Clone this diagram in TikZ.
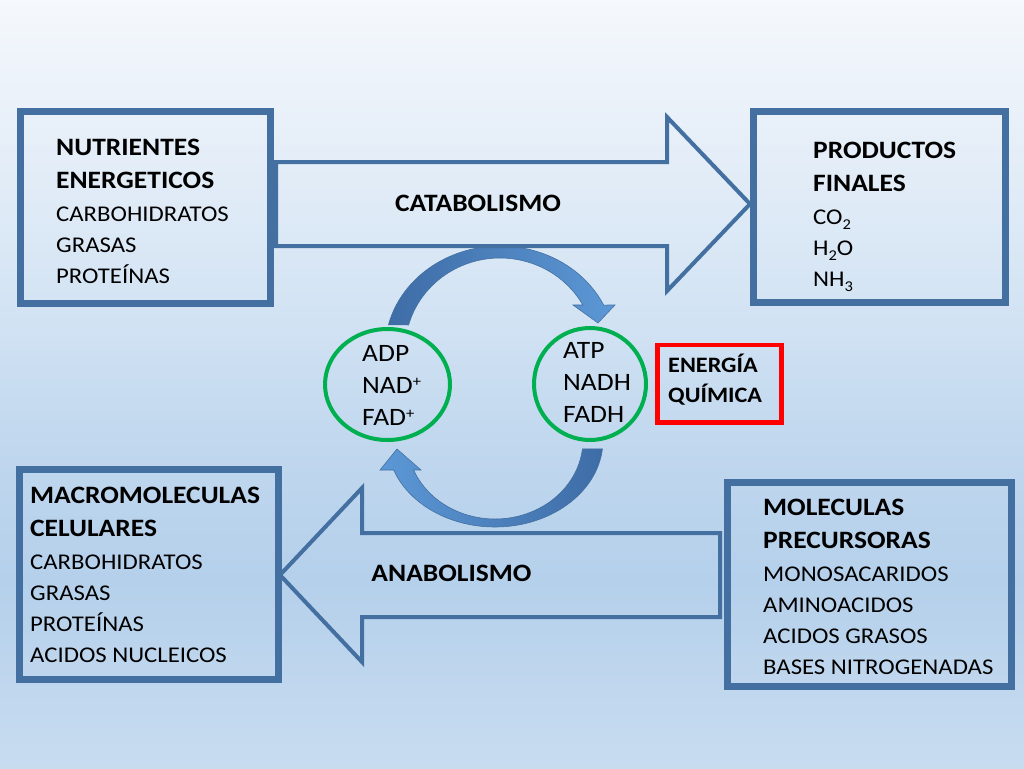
\documentclass[tikz,border=0pt]{standalone}
\usepackage{fontspec}
\setmainfont{Carlito}[FakeStretch=1.1]
\usetikzlibrary{calc,shapes.geometric}

\definecolor{boxblue}{RGB}{67,112,160}
\definecolor{ringgreen}{RGB}{0,176,80}
\definecolor{arcdark}{RGB}{62,108,166}
\definecolor{arclight}{RGB}{92,152,214}
\definecolor{bgtop}{RGB}{245,248,252}
\definecolor{bgpale}{RGB}{229,238,248}
\definecolor{bglight}{RGB}{212,228,244}
\definecolor{bgmid}{RGB}{192,215,238}
\definecolor{bgdeep}{RGB}{181,208,235}
\definecolor{bgbottom}{RGB}{200,220,240}

\pgfdeclareverticalshading{slidebg}{100bp}{color(0bp)=(bgbottom); color(25bp)=(bgbottom); color(37.2bp)=(bgdeep); color(45.7bp)=(bgmid); color(55.5bp)=(bglight); color(65.2bp)=(bgpale); color(75bp)=(bgtop); color(100bp)=(bgtop)}

\def\head#1{{\fontsize{25}{33}\selectfont\bfseries #1}}
\def\plus{\raisebox{7pt}{\fontsize{15}{15}\selectfont +}}
\def\sub#1{\raisebox{-5pt}{\fontsize{15}{15}\selectfont #1}}

\tikzset{
	boxline/.style={draw=boxblue, line width=7},
	bigarrow/.style={draw=boxblue, line width=4, line join=miter},
	arcband/.style={draw=boxblue, line width=0.6},
	ring/.style={ellipse, draw=ringgreen, line width=4, inner sep=0},
	redbox/.style={rectangle, draw=red, line width=4.5, inner sep=0},
	boxtext/.style={anchor=base west, inner sep=0, font=\fontsize{22.5}{31}\selectfont},
	ringtext/.style={anchor=base west, inner sep=0, font=\fontsize{25}{32}\selectfont},
	arrowtext/.style={anchor=base, inner sep=0, font=\fontsize{25}{28}\selectfont\bfseries}
}

\begin{document}
\begin{tikzpicture}[x=1pt, y=-1pt]
		%%%%% START %%%%%
		
		\useasboundingbox (0,0) rectangle (1024,768);
		\shade[shading=slidebg] (0,0) rectangle (1024,768);
		
		% ciclo ATP / ADP
		\coordinate (upc) at (500,350);
		\coordinate (loc) at (495,440);
		\shade[arcband, left color=arcdark, right color=arclight]
			($(upc)+(194:115 and 104)$) arc[start angle=194, end angle=334.4, x radius=115, y radius=104]
			-- (615,305) -- (598,323) -- (573,305)
			-- ($(upc)+(330.7:95 and 92)$) arc[start angle=330.7, end angle=195.8, x radius=95, y radius=92] -- cycle;
		\shade[arcband, left color=arclight, right color=arcdark]
			($(loc)+(5.9:108 and 87)$) arc[start angle=5.9, end angle=159.8, x radius=108, y radius=87]
			-- (380,470) -- (397,449) -- (421,470)
			-- ($(loc)+(157.7:88 and 79)$) arc[start angle=157.7, end angle=6.5, x radius=88, y radius=79] -- cycle;
		
		% flechas grandes
		\draw[bigarrow] (276,162) -- (667,162) -- (667,117) -- (750,204) -- (667,291) -- (667,246) -- (276,246) -- cycle;
		\draw[bigarrow] (720,533) -- (362,533) -- (362,488) -- (280,575) -- (362,662) -- (362,617) -- (720,617) -- cycle;
		\node[arrowtext] (catab) at (478,211.5) {CATABOLISMO};
		\node[arrowtext] (anab) at (451.5,581.5) {ANABOLISMO};
		
		% cajas
		\draw[boxline] (20,111.5) rectangle (270,303);
		\draw[boxline] (753.5,111.5) rectangle (1005,302.5);
		\draw[boxline] (19.5,469) rectangle (278.5,679);
		\draw[boxline] (727,482) rectangle (1011.5,686.5);
		
		\node[boxtext] (nutrientes) at (56,155) {\begin{tabular}[t]{@{}l@{}}\head{NUTRIENTES}\\[2pt] \head{ENERGETICOS}\\[2pt] CARBOHIDRATOS\\ GRASAS\\ PROTEÍNAS\end{tabular}};
		\node[boxtext] (productos) at (813,158) {\begin{tabular}[t]{@{}l@{}}\head{PRODUCTOS}\\[2pt] \head{FINALES}\\[2pt] CO\sub{2}\\ H\sub{2}O\\ NH\sub{3}\end{tabular}};
		\node[boxtext] (macro) at (30,503) {\begin{tabular}[t]{@{}l@{}}\head{MACROMOLECULAS}\\[2pt] \head{CELULARES}\\[2pt] CARBOHIDRATOS\\ GRASAS\\ PROTEÍNAS\\ ACIDOS NUCLEICOS\end{tabular}};
		\node[boxtext] (precursoras) at (763,515) {\begin{tabular}[t]{@{}l@{}}\head{MOLECULAS}\\[2pt] \head{PRECURSORAS}\\[2pt] MONOSACARIDOS\\ AMINOACIDOS\\ ACIDOS GRASOS\\ BASES NITROGENADAS\end{tabular}};
		
		% circulos
		\node[ring, minimum width=125, minimum height=111] (adp) at (387.5,384.5) {};
		\node[ring, minimum width=112, minimum height=112] (atp) at (590,384) {};
		\node[ringtext] (adptext) at (362,361) {\begin{tabular}[t]{@{}l@{}}ADP\\ NAD\plus\\ FAD\plus\end{tabular}};
		\node[ringtext] (atptext) at (563,358) {\begin{tabular}[t]{@{}l@{}}ATP\\ NADH\\ FADH\end{tabular}};
		
		\node[redbox, minimum width=124, minimum height=77.5] (energia) at (719.5,383.75) {};
		\node[boxtext, font=\fontsize{22}{30}\selectfont\bfseries] (energiatext) at (668,372) {\begin{tabular}[t]{@{}l@{}}ENERGÍA\\ QUÍMICA\end{tabular}};
		
		%%%%% END %%%%%
	\end{tikzpicture}
\end{document}
